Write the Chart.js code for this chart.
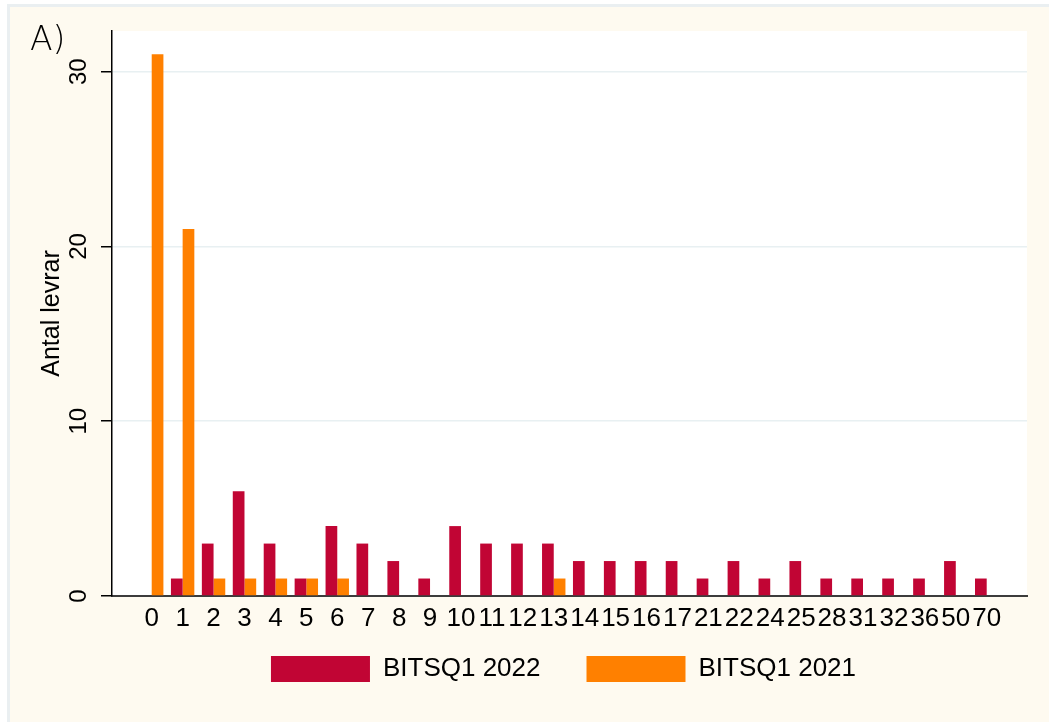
<!DOCTYPE html>
<html>
<head>
<meta charset="utf-8">
<script src="https://cdn.jsdelivr.net/npm/chart.js@4.4.1/dist/chart.umd.min.js"></script>
<style>
  html, body { margin: 0; padding: 0; background: #ffffff; }
  #wrap { position: relative; width: 1049px; height: 722px; }
</style>
</head>
<body>
<div id="wrap"><canvas id="c" width="1049" height="722"></canvas></div>
<script>
// ---- data ----
const categories = ['0','1','2','3','4','5','6','7','8','9','10','11','12','13',
                    '14','15','16','17','21','22','24','25','28','31','32','36','50','70'];
const bitsq2022 = [0,1,3,6,3,1,4,3,2,1,4,3,3,3,2,2,2,2,1,2,1,2,1,1,1,1,2,1];
const bitsq2021 = [31,21,1,1,1,1,1,0,0,0,0,0,0,1,0,0,0,0,0,0,0,0,0,0,0,0,0,0];
const seriesNames = ['BITSQ1 2022', 'BITSQ1 2021'];
const yTicks = [0, 10, 20, 30];
const yTitle = 'Antal levrar';
const panelLabel = 'A)';

const FONT = '"Liberation Sans", Arial, Helvetica, sans-serif';

const backgroundPlugin = {
  id: 'bg',
  afterLayout(chart) {
    // let x tick labels draw below the (compressed) axis box
    chart.scales.x.bottom = chart.height;
    // nudge legend to match reference centring
    if (chart.legend) { chart.legend.left -= 6; chart.legend.right -= 6; }
  },
  beforeDraw(chart) {
    const ctx = chart.ctx, a = chart.chartArea;
    ctx.save();
    ctx.fillStyle = '#ffffff';
    ctx.fillRect(0, 0, chart.width, chart.height);
    ctx.fillStyle = '#eaeff1';
    ctx.fillRect(7, 4, chart.width - 7, chart.height - 4);
    ctx.fillStyle = '#fefaf0';
    ctx.fillRect(10, 7, chart.width - 10, chart.height - 7);
    ctx.fillStyle = '#ffffff';
    ctx.fillRect(a.left, a.top, a.right - a.left, a.bottom - a.top);
    ctx.restore();
  }
};

const panelLabelPlugin = {
  id: 'panelLabel',
  afterDraw(chart) {
    const ctx = chart.ctx;
    ctx.save();
    ctx.fillStyle = '#000000';
    ctx.font = '200 33px "DejaVu Sans", sans-serif';
    ctx.textAlign = 'left';
    ctx.textBaseline = 'alphabetic';
    ctx.fillText(panelLabel, 30, 50);
    ctx.restore();
  }
};

const toXY = arr => arr.map((v, i) => ({ x: i, y: v }));

new Chart(document.getElementById('c'), {
  type: 'bar',
  data: {
    datasets: [
      { label: seriesNames[0], data: toXY(bitsq2022), backgroundColor: '#c10534', borderWidth: 0 },
      { label: seriesNames[1], data: toXY(bitsq2021), backgroundColor: '#ff8000', borderWidth: 0 }
    ]
  },
  options: {
    responsive: false,
    animation: false,
    devicePixelRatio: 1,
    layout: { padding: { top: 31, right: 22, bottom: 30, left: 0 } },
    datasets: { bar: { categoryPercentage: 0.757, barPercentage: 1.0 } },
    plugins: {
      tooltip: { enabled: false },
      legend: {
        position: 'bottom',
        fullSize: false,
        labels: {
          boxWidth: 99,
          boxHeight: 26,
          padding: 46,
          color: '#000',
          font: { family: FONT, size: 26 }
        }
      }
    },
    scales: {
      x: {
        type: 'linear',
        offset: false,
        min: -1.284,
        max: 28.303,
        afterBuildTicks: s => { s.ticks = categories.map((c, i) => ({ value: i })); },
        afterFit: s => { s.height = 14; },
        grid: { display: false, drawTicks: false },
        border: { display: true, color: '#3c3c3c', width: 2 },
        ticks: {
          autoSkip: false,
          maxRotation: 0,
          minRotation: 0,
          padding: 7,
          color: '#000',
          font: { family: FONT, size: 26 },
          callback: v => categories[v] ?? ''
        }
      },
      y: {
        min: 0,
        max: 32.33,
        afterBuildTicks: s => { s.ticks = yTicks.map(v => ({ value: v })); },
        afterFit: s => { s.width = 112; },
        grid: {
          color: c => (c.tick && c.tick.value === 0) ? 'rgba(0,0,0,0)' : '#e8f0f2',
          lineWidth: 1.5,
          tickColor: '#000',
          tickWidth: 1.5,
          tickLength: 11
        },
        border: { display: true, color: '#000', width: 1.5 },
        ticks: {
          minRotation: 90,
          maxRotation: 90,
          crossAlign: 'center',
          padding: 8,
          color: '#000',
          font: { family: FONT, size: 24 }
        },
        title: {
          display: true,
          text: yTitle,
          color: '#000',
          font: { family: FONT, size: 25 },
          padding: { top: 37, bottom: 0 }
        }
      }
    }
  },
  plugins: [backgroundPlugin, panelLabelPlugin]
});
</script>
</body>
</html>
